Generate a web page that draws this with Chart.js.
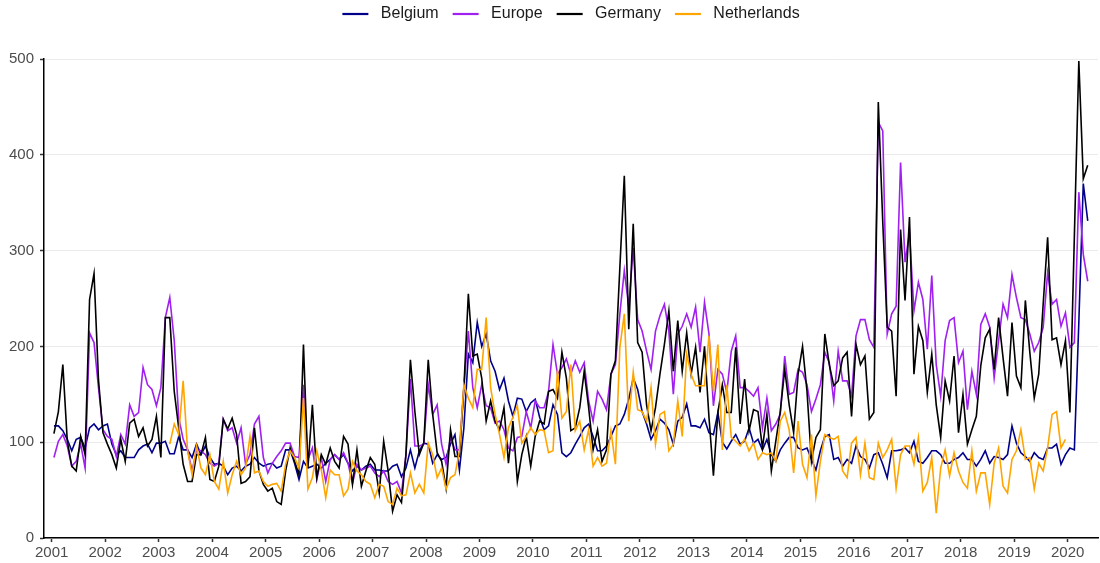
<!DOCTYPE html>
<html>
<head>
<meta charset="utf-8">
<script src="https://cdn.jsdelivr.net/npm/chart.js@4.4.1/dist/chart.umd.min.js"></script>
<style>
  html, body { margin: 0; padding: 0; background: #fff; }
  #wrap { width: 1100px; height: 563px; }
</style>
</head>
<body>
<div id="wrap"><canvas id="chart" width="1100" height="563"></canvas></div>
<script>
// monthly values, Jan 2001 .. May 2020 (one row per year)
const belgium = [
  117,117,112,103,91,103,105,94,115,119,113,117,
  119,98,87,91,84,84,84,92,96,98,89,99,
  99,101,88,88,106,92,92,84,98,87,96,84,
  77,78,75,66,73,75,70,75,77,84,78,75,
  77,78,73,75,92,92,78,61,80,73,75,77,
  73,78,82,87,82,87,78,70,75,71,75,77,
  71,71,70,70,75,77,64,73,92,73,91,99,
  98,78,87,82,84,98,108,71,115,192,183,225,
  200,213,185,174,155,167,143,127,146,145,132,141,
  145,126,113,117,139,129,89,85,89,98,106,115,
  119,106,91,91,96,106,117,119,129,145,167,155,
  132,119,103,112,124,120,113,98,122,126,140,117,
  117,115,124,110,108,131,100,93,101,108,98,101,
  115,99,103,92,103,87,80,92,99,105,105,94,
  92,94,82,71,91,106,108,82,84,75,82,78,
  96,85,82,73,87,89,77,63,91,91,92,94,
  89,101,80,78,84,91,91,87,78,78,82,84,
  89,82,82,75,82,91,78,85,84,82,87,117,
  99,89,85,80,89,84,82,94,94,98,77,87,
  94,92,225,370,331
];
const europe = [
  84,101,108,96,75,80,98,73,214,204,157,113,
  106,103,85,108,98,139,127,131,178,160,155,138,
  157,230,251,206,126,103,92,70,92,91,87,78,
  75,78,124,112,115,99,115,77,87,119,127,84,
  68,78,85,91,99,99,85,84,160,82,94,61,
  84,59,82,87,82,89,78,57,77,71,73,75,
  68,64,70,59,56,59,47,87,166,96,96,98,
  160,129,139,98,77,105,92,92,157,216,157,136,
  160,138,136,120,122,113,94,91,105,106,132,115,
  143,136,136,153,202,171,178,187,171,185,173,183,
  143,122,153,145,134,171,181,234,279,241,303,228,
  216,195,176,216,232,244,216,150,213,221,234,220,
  241,194,246,213,138,176,171,152,195,211,157,157,
  153,148,157,115,146,112,119,129,190,150,152,176,
  173,160,132,145,160,194,183,143,195,164,164,148,
  211,228,228,207,199,434,425,213,234,242,392,288,
  319,237,267,249,197,274,181,148,206,227,230,183,
  195,134,174,150,223,234,220,167,206,244,230,275,
  251,230,228,213,195,204,220,277,244,249,221,235,
  199,204,361,296,268
];
const germany = [
  109,132,181,101,75,70,106,87,249,276,165,110,
  98,87,73,103,80,120,124,106,115,96,103,127,
  84,230,230,153,115,77,59,59,87,87,105,61,
  59,75,124,114,125,108,57,59,64,115,70,56,
  49,52,38,35,70,94,80,66,202,73,139,63,
  87,77,94,80,73,106,98,56,92,54,70,84,
  77,47,101,70,28,45,37,87,186,132,87,99,
  186,129,89,80,52,113,85,85,157,255,190,192,
  167,122,143,122,113,136,78,122,59,87,106,75,
  106,122,119,153,155,146,194,167,112,115,136,174,
  136,92,113,80,92,171,185,282,378,218,328,204,
  194,139,112,136,171,202,237,174,227,174,214,171,
  199,152,200,126,65,131,160,131,131,199,119,166,
  112,134,132,94,129,70,101,132,176,139,110,171,
  200,153,80,105,113,213,181,159,164,188,194,127,
  202,181,190,124,131,455,330,220,216,148,322,248,
  335,171,221,206,152,192,139,105,164,143,190,110,
  150,98,113,127,180,209,218,176,230,188,148,225,
  169,157,248,194,146,171,244,314,207,209,181,206,
  131,315,498,375,389
];
const netherlands = [
  null,null,null,null,null,null,null,null,null,null,null,null,
  null,null,null,null,null,null,null,null,null,null,null,null,
  null,null,98,119,108,164,91,66,96,73,66,87,
  59,51,80,47,66,80,66,73,106,68,70,59,
  54,56,57,49,77,91,84,73,146,51,63,91,
  71,42,71,66,66,44,51,80,70,66,59,56,
  42,56,54,38,35,52,44,45,68,47,56,47,
  99,87,63,73,51,63,66,91,160,146,136,176,
  176,230,157,129,108,84,115,126,138,99,106,115,
  108,113,112,89,91,175,125,132,181,112,122,92,
  113,75,84,75,78,112,77,199,234,122,173,134,
  132,122,157,98,129,132,91,98,143,106,192,171,
  159,159,159,211,153,202,92,160,105,101,96,103,
  91,99,82,89,87,89,80,122,131,113,68,122,
  77,63,108,44,80,108,105,103,106,70,63,99,
  105,66,99,63,61,99,84,92,103,52,87,96,
  96,77,105,49,58,84,26,73,92,65,89,70,
  58,52,91,49,68,68,35,78,94,54,47,82,
  91,113,82,84,51,78,70,94,129,132,94,103,
  null,null,null,null,null
];
const yearTicks = [2001,2002,2003,2004,2005,2006,2007,2008,2009,2010,
                   2011,2012,2013,2014,2015,2016,2017,2018,2019,2020];
const startYear = 2001;

// month mid-points as decimal years
function toPoints(values) {
    let pts = new Array();
    for(let i=0; i<values.length; i++) {
        pts.push({x: startYear + (i + 0.5) / 12, y: values[i]});
    }
    return pts;
}

const tickFont = {family: "'Liberation Sans', Arial, sans-serif", size: 15};
const legendFont = {family: "'Liberation Sans', Arial, sans-serif", size: 16};

const chart = new Chart(document.getElementById('chart'), {
    type: 'line',
    data: {
        datasets: [
            {label: 'Belgium', data: toPoints(belgium), borderColor: '#00008B', backgroundColor: '#00008B', borderWidth: 1.6, order: 4, xAxisID: 'x'},
            {label: 'Europe', data: toPoints(europe), borderColor: '#A020F0', backgroundColor: '#A020F0', borderWidth: 1.6, order: 3, xAxisID: 'x'},
            {label: 'Germany', data: toPoints(germany), borderColor: '#000000', backgroundColor: '#000000', borderWidth: 1.6, order: 2, xAxisID: 'x'},
            {label: 'Netherlands', data: toPoints(netherlands), borderColor: '#FFA500', backgroundColor: '#FFA500', borderWidth: 1.6, order: 1, xAxisID: 'x'}
        ]
    },
    options: {
        responsive: false,
        animation: false,
        layout: {padding: {top: -8, right: 2, left: 8, bottom: 0}},
        elements: {
            point: {radius: 0},
            line: {tension: 0, fill: false}
        },
        plugins: {
            tooltip: {enabled: false},
            legend: {
                position: 'top',
                fullSize: false,
                labels: {
                    usePointStyle: true,
                    pointStyle: 'line',
                    pointStyleWidth: 26,
                    padding: 14,
                    color: '#1a1a1a',
                    font: legendFont,
                    sort: (a, b) => a.datasetIndex - b.datasetIndex,
                    generateLabels: function(c) {
                        return Chart.defaults.plugins.legend.labels.generateLabels(c).map(function(item) {
                            item.text = ' ' + item.text;
                            item.lineWidth = 2.2;
                            return item;
                        });
                    }
                }
            }
        },
        scales: {
            x: {
                type: 'linear',
                min: 2000.856,
                max: 2020.567,
                afterBuildTicks: function(s) { s.ticks = yearTicks.map(v => ({value: v})); },
                afterFit: function(s) { s.height = 25; },
                ticks: {font: tickFont, color: '#4d4d4d', padding: 2, maxRotation: 0, autoSkip: false, callback: v => String(v)},
                grid: {drawOnChartArea: false, tickLength: 4, tickColor: '#333333', tickWidth: 1.5},
                border: {color: '#000000', width: 1.5}
            },
            spacer: {
                type: 'linear',
                position: 'top',
                afterFit: function(s) { s.height = 27; },
                ticks: {display: false},
                grid: {display: false},
                border: {display: false}
            },
            y: {
                min: 0,
                max: 500,
                afterFit: function(s) { s.width = 36; },
                ticks: {stepSize: 100, font: tickFont, color: '#4d4d4d', padding: 6},
                grid: {color: '#ebebeb', lineWidth: 1, tickLength: 4, tickColor: '#333333', tickWidth: 1.5},
                border: {color: '#000000', width: 1.5}
            }
        }
    }
});
</script>
</body>
</html>
